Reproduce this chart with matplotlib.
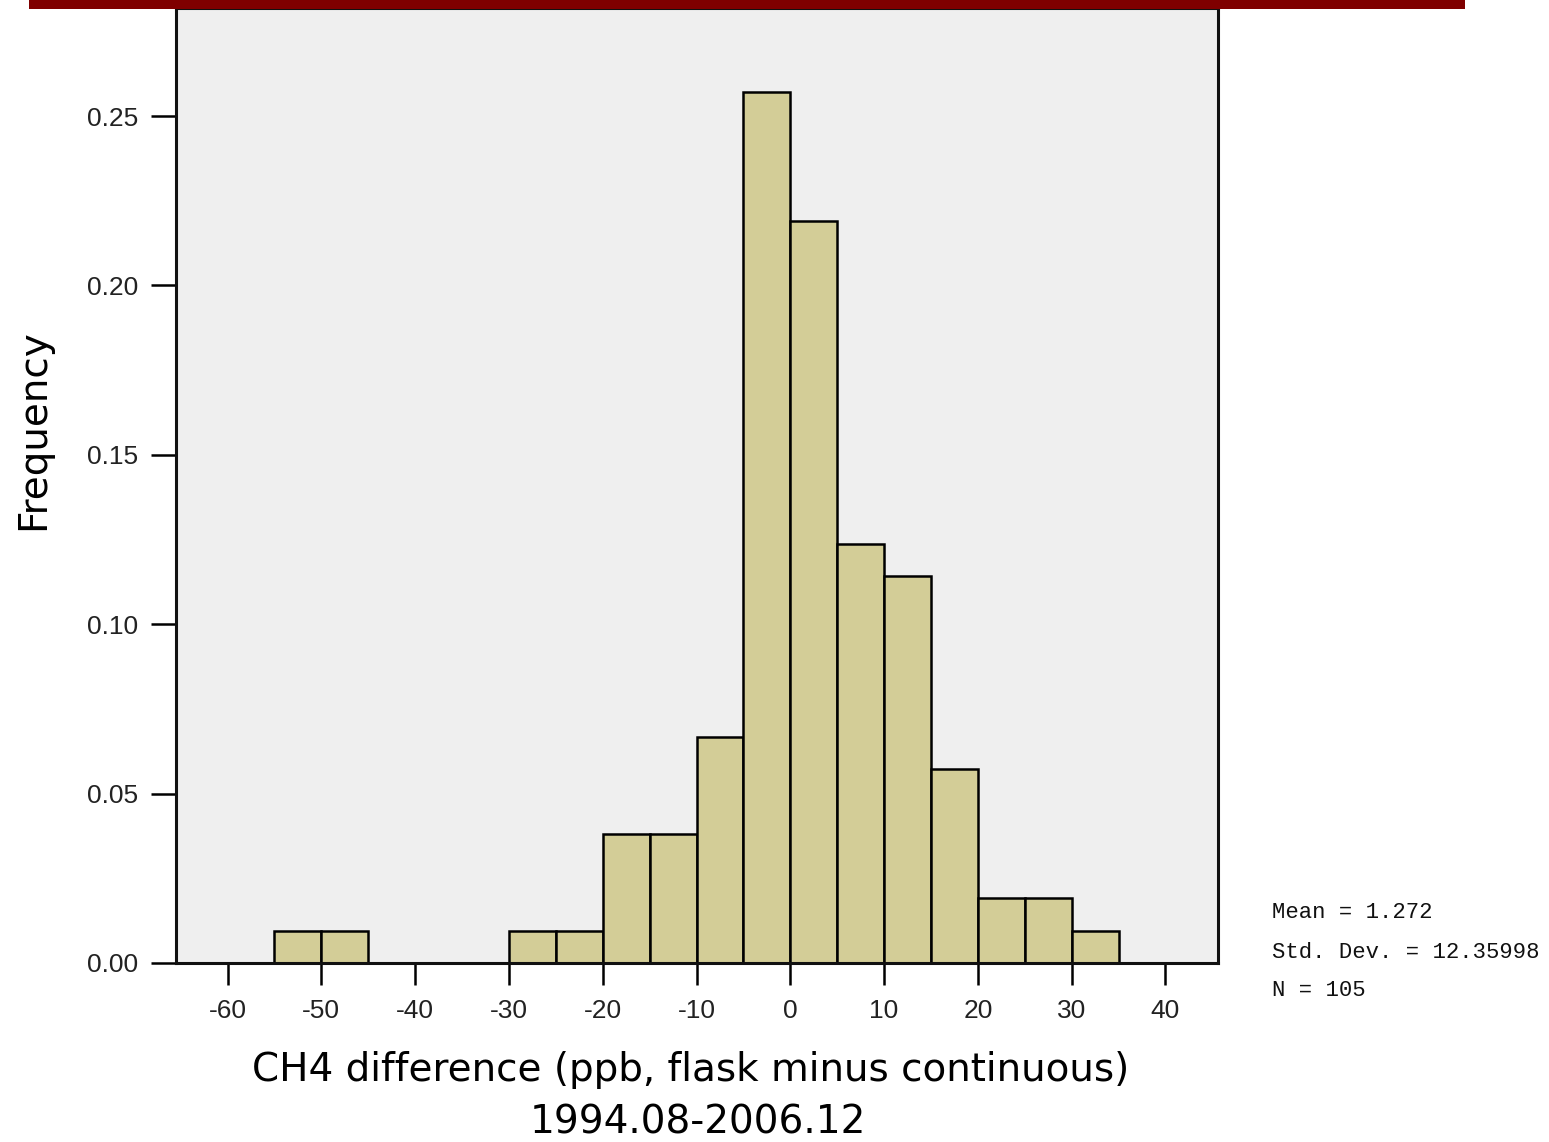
import matplotlib
matplotlib.use("Agg")
import matplotlib.pyplot as plt
from matplotlib.patches import Rectangle
import numpy as np

# Histogram of CH4 differences, 5 ppb bins
bin_edges = [-55, -50, -45, -40, -35, -30, -25, -20, -15, -10, -5, 0, 5, 10, 15, 20, 25, 30, 35]
bin_counts = [1, 1, 0, 0, 0, 1, 1, 4, 4, 7, 27, 23, 13, 12, 6, 2, 2, 1]
n_total = 105
mean_val = "1.272"
std_val = "12.35998"

x_ticks = [-60, -50, -40, -30, -20, -10, 0, 10, 20, 30, 40]
y_ticks = [0.00, 0.05, 0.10, 0.15, 0.20, 0.25]

bar_color = "#d3cd97"
bg_color = "#efefef"

freqs = np.array(bin_counts) / n_total
edges = np.array(bin_edges)

W, H = 1549, 1142
fig = plt.figure(figsize=(W / 100, H / 100), dpi=100)
ax = fig.add_axes([176 / W, 1 - 963 / H, (1218 - 176) / W, (963 - 8) / H])
ax.set_facecolor(bg_color)

ax.bar(edges[:-1], freqs, width=np.diff(edges), align="edge",
       color=bar_color, edgecolor="black", linewidth=1.8, zorder=2)

ax.set_xlim(-65.5, 45.6)
ax.set_ylim(0, 0.2819)

ax.set_xticks(x_ticks)
ax.set_xticklabels([str(v) for v in x_ticks])
ax.set_yticks(y_ticks)
ax.set_yticklabels([f"{v:.2f}" for v in y_ticks])

for lab in ax.get_xticklabels() + ax.get_yticklabels():
    lab.set_fontfamily("Liberation Sans")
    lab.set_fontsize(19)
    lab.set_color("#222222")

ax.tick_params(axis="y", direction="out", length=18, width=1.8, pad=9)
ax.tick_params(axis="x", direction="out", length=16, width=1.8, pad=10)

for side in ["left", "right", "bottom", "top"]:
    ax.spines[side].set_linewidth(2.2)
    ax.spines[side].set_color("#111111")

# axis titles
fig.text(33 / W, 1 - 430 / H, "Frequency", rotation=90, ha="center", va="center",
         fontsize=28, family="DejaVu Sans")
fig.text(691 / W, 1 - 1070 / H, "CH4 difference (ppb, flask minus continuous)",
         ha="center", va="center", fontsize=28, family="DejaVu Sans")
fig.text(698 / W, 1 - 1123 / H, "1994.08-2006.12",
         ha="center", va="center", fontsize=28, family="DejaVu Sans")

stats_font = dict(family="Liberation Mono", fontsize=16, color="#111111")
fig.text(1272 / W, 1 - 912 / H, f"Mean = {mean_val}", va="center", ha="left", **stats_font)
fig.text(1272 / W, 1 - 952 / H, f"Std. Dev. = {std_val}", va="center", ha="left", **stats_font)
fig.text(1272 / W, 1 - 991 / H, f"N = {n_total}", va="center", ha="left", **stats_font)

# dark red banner along the top edge
fig.patches.append(Rectangle((29 / W, 1 - 9 / H), (1465 - 29) / W, 9 / H,
                             transform=fig.transFigure, facecolor="#7f0000",
                             edgecolor="none", zorder=10))

fig.savefig("out.png", dpi=100)
